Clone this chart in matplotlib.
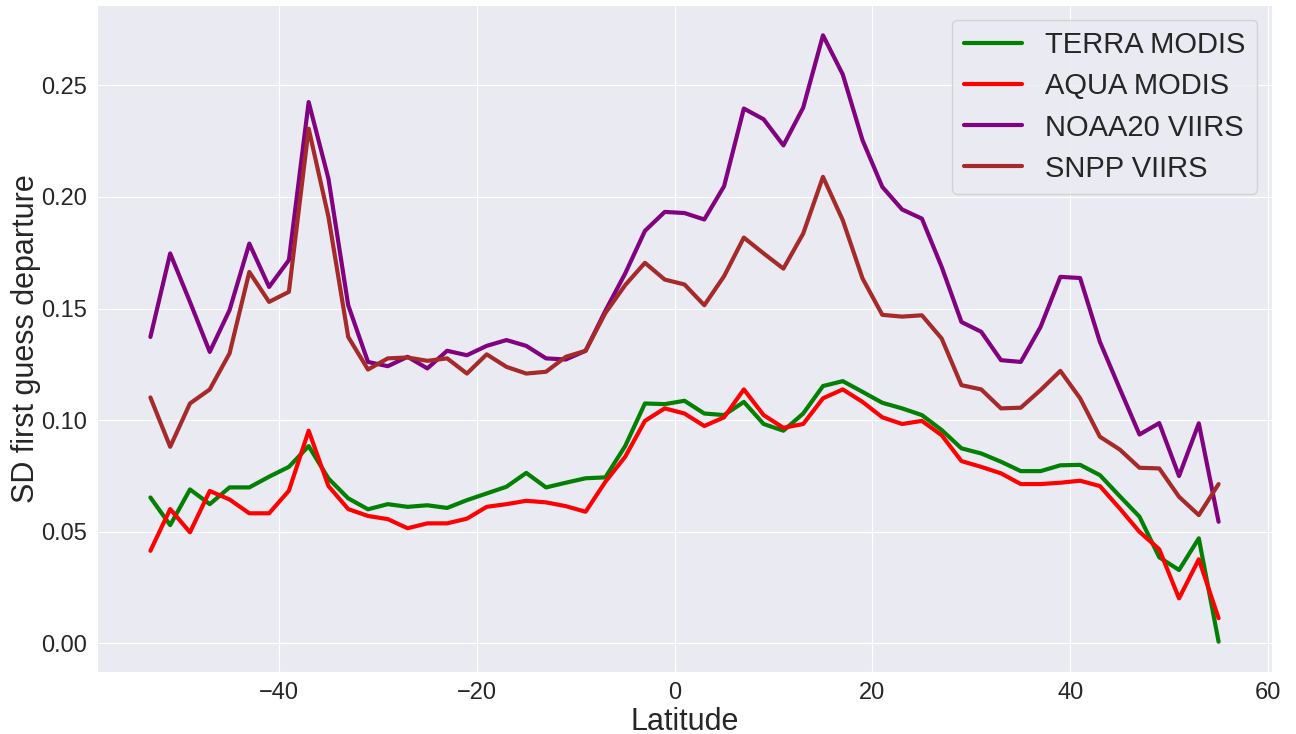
import numpy as np
import matplotlib
matplotlib.use('Agg')
import matplotlib.pyplot as plt
import seaborn as sns

# latitudes (bin centres, every 2 degrees)
latitude = list(range(-53, 56, 2))

terra_modis = [0.0654, 0.0530, 0.0690, 0.0624, 0.0699, 0.0699, 0.0747, 0.0791, 0.0884, 0.0739,
               0.0650, 0.0601, 0.0624, 0.0612, 0.0619, 0.0607, 0.0642, 0.0672, 0.0702, 0.0764,
               0.0699, 0.0720, 0.0740, 0.0744, 0.0884, 0.1075, 0.1072, 0.1087, 0.1030, 0.1023,
               0.1082, 0.0983, 0.0953, 0.1030, 0.1153, 0.1175, 0.1127, 0.1078, 0.1053, 0.1023,
               0.0956, 0.0874, 0.0851, 0.0814, 0.0772, 0.0772, 0.0798, 0.0800, 0.0754, 0.0660,
               0.0568, 0.0386, 0.0329, 0.0471, 0.0008]

aqua_modis = [0.0415, 0.0602, 0.0498, 0.0683, 0.0645, 0.0583, 0.0583, 0.0684, 0.0953, 0.0705,
              0.0602, 0.0571, 0.0557, 0.0516, 0.0538, 0.0538, 0.0559, 0.0612, 0.0624, 0.0639,
              0.0632, 0.0615, 0.0590, 0.0724, 0.0836, 0.0997, 0.1053, 0.1030, 0.0974, 0.1013,
              0.1138, 0.1023, 0.0966, 0.0983, 0.1098, 0.1138, 0.1082, 0.1013, 0.0983, 0.0997,
              0.0933, 0.0817, 0.0791, 0.0762, 0.0714, 0.0714, 0.0720, 0.0729, 0.0705, 0.0605,
              0.0500, 0.0422, 0.0202, 0.0377, 0.0113]

noaa20_viirs = [0.1373, 0.1747, 0.1530, 0.1306, 0.1493, 0.1791, 0.1597, 0.1717, 0.2425, 0.2082,
                0.1515, 0.1261, 0.1242, 0.1284, 0.1232, 0.1311, 0.1291, 0.1333, 0.1359, 0.1333,
                0.1277, 0.1272, 0.1311, 0.1490, 0.1657, 0.1848, 0.1933, 0.1928, 0.1899, 0.2048,
                0.2396, 0.2348, 0.2231, 0.2400, 0.2724, 0.2549, 0.2254, 0.2045, 0.1944, 0.1903,
                0.1687, 0.1440, 0.1396, 0.1269, 0.1261, 0.1418, 0.1642, 0.1637, 0.1351, 0.1142,
                0.0936, 0.0987, 0.0750, 0.0986, 0.0545]

snpp_viirs = [0.1102, 0.0881, 0.1075, 0.1138, 0.1299, 0.1664, 0.1530, 0.1575, 0.2306, 0.1911,
              0.1373, 0.1227, 0.1277, 0.1281, 0.1266, 0.1277, 0.1209, 0.1295, 0.1239, 0.1209,
              0.1217, 0.1284, 0.1311, 0.1480, 0.1605, 0.1705, 0.1630, 0.1608, 0.1515, 0.1645,
              0.1818, 0.1747, 0.1679, 0.1836, 0.2090, 0.1896, 0.1635, 0.1472, 0.1464, 0.1470,
              0.1366, 0.1157, 0.1138, 0.1053, 0.1056, 0.1135, 0.1221, 0.1098, 0.0926, 0.0869,
              0.0787, 0.0784, 0.0657, 0.0575, 0.0714]

sns.set_style('darkgrid')
plt.rcParams['font.family'] = ['Liberation Sans', 'DejaVu Sans']

fig, ax = plt.subplots(figsize=(12.96, 7.34), dpi=100)
fig.subplots_adjust(left=97 / 1296, right=1272 / 1296, top=1 - 5 / 734, bottom=1 - 672 / 734)

ax.plot(latitude, terra_modis, color='green', lw=3, label='TERRA MODIS')
ax.plot(latitude, aqua_modis, color='red', lw=3, label='AQUA MODIS')
ax.plot(latitude, noaa20_viirs, color='purple', lw=3, label='NOAA20 VIIRS')
ax.plot(latitude, snpp_viirs, color='brown', lw=3, label='SNPP VIIRS')

ax.set_xlabel('Latitude', fontsize=22, labelpad=2)
ax.set_ylabel('SD first guess departure', fontsize=22, labelpad=0)
ax.tick_params(labelsize=17)
ax.legend(loc='upper right', fontsize=21, borderaxespad=0.5, labelspacing=0.45)

fig.savefig('out.png')
